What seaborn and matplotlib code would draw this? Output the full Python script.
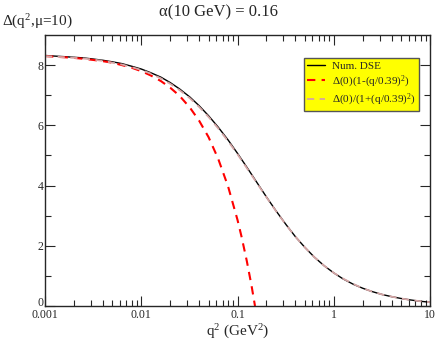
import matplotlib
matplotlib.use("Agg")
import matplotlib.pyplot as plt
import matplotlib.ticker as mticker
import numpy as np
import pandas as pd
import seaborn as sns

# values
q2 = [0.001, 0.00125, 0.0016, 0.002, 0.0025, 0.0032, 0.004, 0.005, 0.0063, 0.008,
      0.01, 0.0125, 0.016, 0.02, 0.025, 0.032, 0.04, 0.05, 0.063, 0.08,
      0.1, 0.125, 0.16, 0.2, 0.25, 0.32, 0.4, 0.5, 0.63, 0.8,
      1.0, 1.25, 1.6, 2.0, 2.5, 3.2, 4.0, 5.0, 6.3, 8.0, 10.0]
delta_dse = [8.32, 8.30, 8.28, 8.26, 8.24, 8.20, 8.16, 8.11, 8.05, 7.96,
             7.87, 7.75, 7.60, 7.42, 7.21, 6.94, 6.65, 6.32, 5.94, 5.51,
             5.07, 4.61, 4.09, 3.62, 3.17, 2.70, 2.30, 1.95, 1.62, 1.33,
             1.10, 0.90, 0.72, 0.59, 0.48, 0.38, 0.31, 0.25, 0.20, 0.156, 0.125]
delta_lor = [8.30, 8.28, 8.26, 8.24, 8.22, 8.18, 8.14, 8.08, 8.02, 7.93,
             7.84, 7.72, 7.56, 7.38, 7.17, 6.90, 6.61, 6.28, 5.90, 5.47,
             5.04, 4.58, 4.07, 3.61, 3.16, 2.69, 2.30, 1.95, 1.62, 1.33,
             1.10, 0.91, 0.73, 0.59, 0.48, 0.38, 0.31, 0.25, 0.20, 0.156, 0.125]

q2_lin = [0.001, 0.00125, 0.0016, 0.002, 0.0025, 0.0032, 0.004, 0.005, 0.0063, 0.008,
          0.01, 0.0125, 0.016, 0.02, 0.025, 0.032, 0.04, 0.05, 0.063, 0.08,
          0.1, 0.11, 0.125, 0.14, 0.152]
delta_lin = [8.30, 8.28, 8.26, 8.24, 8.21, 8.17, 8.13, 8.08, 8.00, 7.91,
             7.80, 7.66, 7.47, 7.25, 6.98, 6.59, 6.15, 5.61, 4.89, 3.96,
             2.86, 2.31, 1.49, 0.67, 0.0]

df_dse = pd.DataFrame({"q2": q2, "d": delta_dse})
df_lor = pd.DataFrame({"q2": q2, "d": delta_lor})
df_lin = pd.DataFrame({"q2": q2_lin, "d": delta_lin})

sns.set_style("ticks")
plt.rcParams["font.family"] = ["Liberation Serif", "DejaVu Serif"]
plt.rcParams["mathtext.fontset"] = "custom"
plt.rcParams["mathtext.rm"] = "Liberation Serif"

fig = plt.figure(figsize=(4.36, 3.41), dpi=100)
ax = fig.add_axes([45 / 436, 35 / 341, 385 / 436, 271 / 341])

sns.lineplot(data=df_dse, x="q2", y="d", ax=ax, color="black", lw=1.0,
             label="Num. DSE")
sns.lineplot(data=df_lin, x="q2", y="d", ax=ax, color="#ff0000", lw=1.5,
             label="Δ(0)(1-(q/0.39)$\\mathregular{^2}$)")
ax.lines[-1].set_linestyle((0, (4, 3)))
sns.lineplot(data=df_lor, x="q2", y="d", ax=ax, color="#d4a5a5", lw=1.3,
             label="Δ(0)/(1+(q/0.39)$\\mathregular{^2}$)")
ax.lines[-1].set_linestyle((0, (4, 3)))

ax.set_xscale("log")
ax.set_xlim(0.001, 10)
ax.set_ylim(0, 9)
ax.xaxis.set_major_locator(mticker.FixedLocator([0.001, 0.01, 0.1, 1, 10]))
ax.xaxis.set_major_formatter(mticker.FixedFormatter(["0.001", "0.01", "0.1", "1", "10"]))
ax.xaxis.set_minor_locator(mticker.LogLocator(base=10, subs=np.arange(2, 10)))
ax.xaxis.set_minor_formatter(mticker.NullFormatter())
ax.yaxis.set_major_locator(mticker.FixedLocator([0, 2, 4, 6, 8]))
ax.yaxis.set_minor_locator(mticker.FixedLocator([1, 3, 5, 7]))

ax.tick_params(which="both", direction="in", top=True, right=True,
               labelsize=8.5)
ax.tick_params(axis="x", pad=2.5)
ax.tick_params(axis="y", pad=1)
ax.tick_params(which="major", length=7, width=0.8)
ax.tick_params(which="minor", length=4, width=0.8)
for s in ax.spines.values():
    s.set_linewidth(1.0)

# the "0" of the y axis sits just above the x labels, as in the reference
ax.yaxis.get_major_ticks()[0].label1.set_verticalalignment("baseline")

ax.set_xlabel("q$\\mathregular{^2}$ (GeV$\\mathregular{^2}$)", fontsize=11, labelpad=1)
ax.set_ylabel("")
fig.text(218 / 436, 1 - 12 / 341, "α(10 GeV) = 0.16", ha="center",
         va="center", fontsize=12)
fig.text(2 / 436, 1 - 22 / 341, "Δ(q$\\mathregular{^2}$,μ=10)", ha="left",
         va="center", fontsize=11)

leg = ax.legend(loc="upper right", bbox_to_anchor=(0.985, 0.935), fontsize=8,
                frameon=True, fancybox=False, handlelength=1.6,
                handletextpad=0.6, borderpad=0.3, labelspacing=0.2)
leg.get_frame().set_facecolor("#ffff00")
leg.get_frame().set_edgecolor("#555555")
leg.get_frame().set_alpha(1)
leg.get_frame().set_linewidth(1.0)

plt.savefig("out.png", dpi=100)
